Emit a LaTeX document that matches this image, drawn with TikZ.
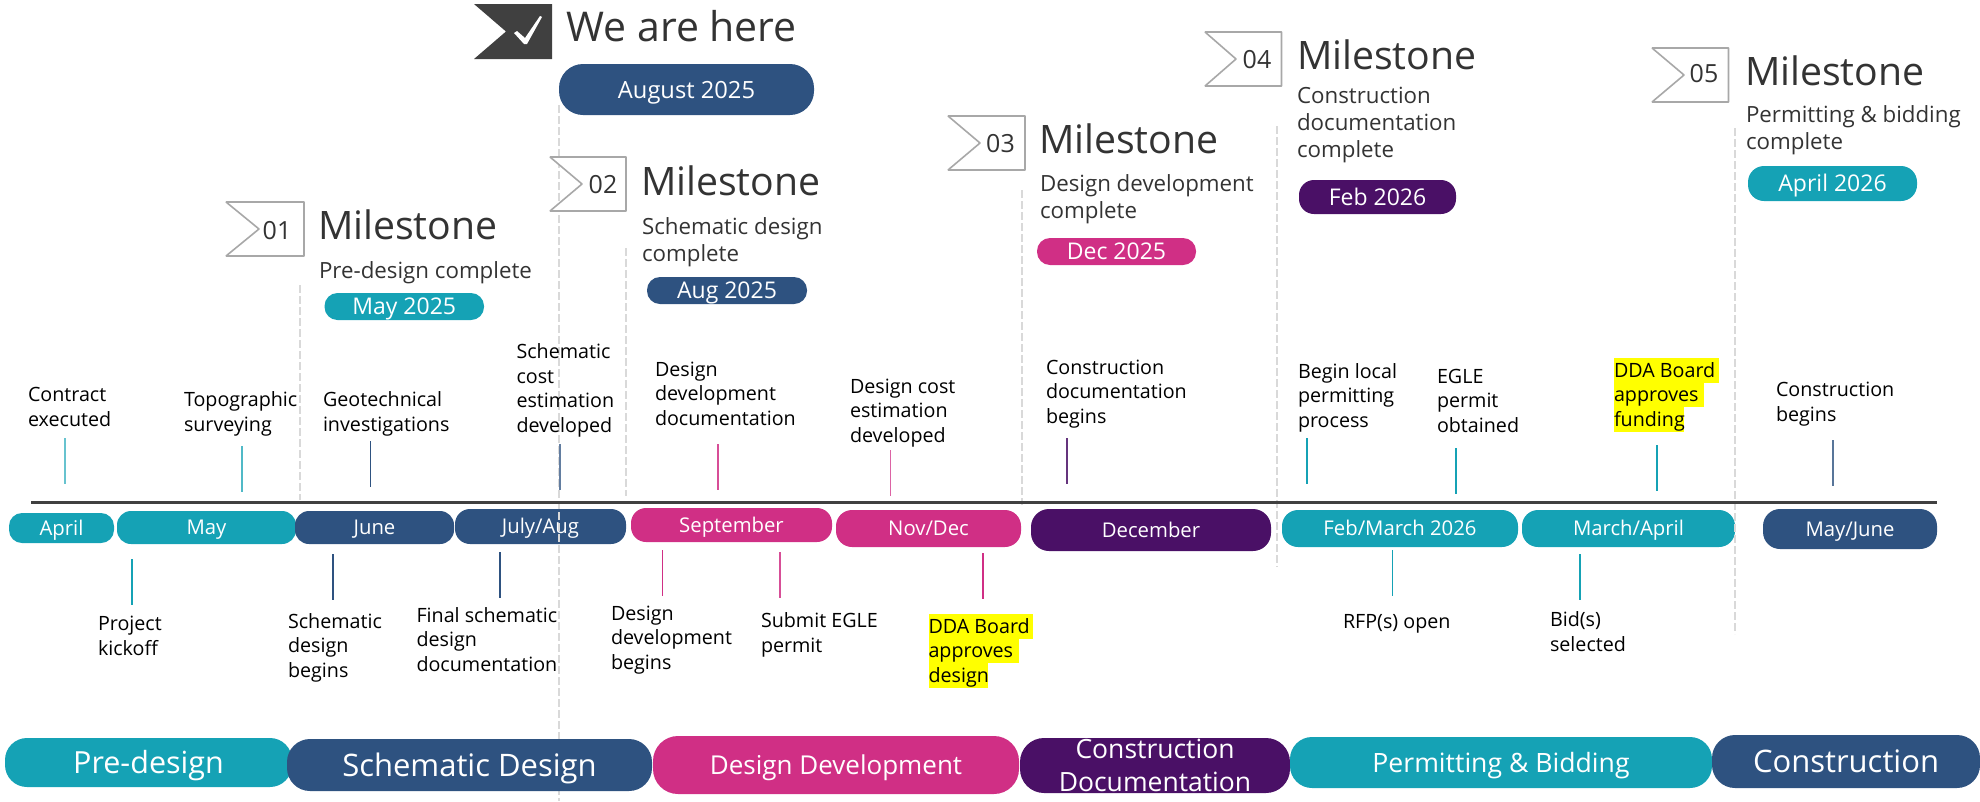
\documentclass[tikz,border=0pt]{standalone}
\usepackage{fontspec}
\setmainfont{Open Sans}
\definecolor{teal}{HTML}{15A2B5}
\definecolor{navy}{HTML}{2E5280}
\definecolor{mag}{HTML}{D02F85}
\definecolor{purp}{HTML}{4A1066}
\definecolor{flaggray}{HTML}{A8A8A8}
\definecolor{dashgray}{HTML}{D9D9D9}
\definecolor{headtext}{HTML}{333333}
\definecolor{marktick}{HTML}{404040}
\definecolor{hilite}{HTML}{FFFF00}
\newcommand{\fs}[1]{\fontsize{#1}{#1}\selectfont}
\tikzset{
  pillbox/.style={inner sep=0pt,outer sep=0pt,text=white,align=center},
  lab/.style={inner sep=0pt,outer sep=0pt,anchor=base west,align=left,text=black,font=\fontsize{19.7}{24.5}\selectfont},
  head/.style={inner sep=0pt,outer sep=0pt,anchor=base west,text=headtext,font=\fs{39.2}},
  sub/.style={inner sep=0pt,outer sep=0pt,anchor=base west,align=left,text=headtext,font=\fontsize{22.3}{27}\selectfont},
  num/.style={inner sep=0pt,outer sep=0pt,text=headtext,font=\fs{25}},
  flagshape/.style={draw=flaggray,line width=1.6pt,fill=white,line join=bevel},
  tickline/.style={line width=1.25pt},
  guide/.style={draw=dashgray,line width=1.3pt,dash pattern=on 8pt off 3pt},
  hibar/.style={fill=hilite,draw=none},
}
% \pill{name}{x1}{y1}{x2}{y2}{colour}{radius}{fontsize}{text}
\newcommand{\pill}[9]{%
  \pgfmathsetmacro{\pw}{#4-#2}\pgfmathsetmacro{\ph}{#5-#3}%
  \pgfmathsetmacro{\pcx}{(#2+#4)/2}\pgfmathsetmacro{\pcy}{(#3+#5)/2}%
  \pgfmathsetmacro{\pth}{#8*0.72}%
  \node[pillbox,fill=#6,rounded corners=#7pt,minimum width=\pw pt,minimum height=\ph pt,
        font=\fs{#8},text height=\pth pt,text depth=0pt] (#1) at (\pcx,\pcy) {#9};}
% \tickmark{name}{x}{y1}{y2}{colour}
\newcommand{\tickmark}[5]{%
  \coordinate (#1a) at (#2,#3);\coordinate (#1b) at (#2,#4);
  \draw[tickline,draw=#5] (#1a) -- (#1b);}
% \guideline{name}{x}{y1}{y2}
\newcommand{\guideline}[4]{%
  \coordinate (#1a) at (#2,#3);\coordinate (#1b) at (#2,#4);
  \draw[guide] (#1a) -- (#1b);}
% \flagmark{x0}{x1}{notch}{y0}{y1}
\newcommand{\flagmark}[5]{%
  \pgfmathsetmacro{\fm}{(#4+#5)/2}%
  \draw[flagshape] (#1,#4) -- (#2,#4) -- (#2,#5) -- (#1,#5) -- (#3,\fm) -- cycle;}
\begin{document}
\begin{tikzpicture}[x=1pt,y=-1pt]
\useasboundingbox (0,0) rectangle (1980,801);
% month pills
\pill{mApr}{9}{513}{114}{543}{teal}{13}{20.3}{April}
\pill{mMay}{117}{511}{296}{544}{teal}{14}{20.3}{May}
\pill{mJun}{295}{511}{454}{544}{navy}{14}{20.3}{June}
\pill{mJul}{455}{509}{626}{544}{navy}{15}{20.3}{July/Aug}
\pill{mSep}{631}{508}{832}{542}{mag}{15}{20.3}{September}
\pill{mNov}{836}{510}{1021}{547}{mag}{16}{20.3}{Nov/Dec}
\pill{mDec}{1031}{509}{1271}{551}{purp}{18}{20.3}{December}
\pill{mFeb}{1282}{510}{1518}{547}{teal}{16}{20.3}{Feb/March 2026}
\pill{mMar}{1522}{510}{1735}{547}{teal}{16}{20.3}{March/April}
\pill{mJune}{1763}{509}{1937}{549}{navy}{17}{20.3}{May/June}
% guides
\guideline{g1}{300}{285}{500}
\guideline{g2}{559}{105}{801}
\guideline{g3}{626}{248}{496}
\guideline{g4}{1022}{190}{505}
\guideline{g5}{1277}{126}{567}
\guideline{g6}{1735}{128}{634}
% axis
\coordinate (axL) at (31,502);\coordinate (axR) at (1937,502);
\draw[line width=3pt,draw=marktick] (axL) -- (axR);
% phase pills
\pill{pPre}{5}{738}{292}{787}{teal}{22}{30.5}{Pre-design}
\pill{pSch}{287}{739}{652}{791}{navy}{23}{31}{Schematic Design}
\pill{pDes}{653}{736}{1019}{794}{mag}{25}{26}{Design Development}
\node[pillbox,fill=purp,rounded corners=24pt,minimum width=270pt,minimum height=55pt,font=\fontsize{26.5}{33}\selectfont] (pCon) at (1155,765.5) {Construction\\Documentation};
\pill{pPer}{1290}{737}{1712}{788}{teal}{22}{26.6}{Permitting \& Bidding}
\pill{pBui}{1712}{735}{1980}{788}{navy}{23}{31}{Construction}
% ticks above
\tickmark{t1}{65}{438}{484}{teal!65}
\tickmark{t2}{242}{446}{492}{teal!75}
\tickmark{t3}{370.5}{441}{487}{navy}
\tickmark{t4}{560}{444}{490}{navy!75}
\tickmark{t5}{718}{444}{490}{mag!85}
\tickmark{t6}{890.5}{450}{496}{mag!75}
\tickmark{t7}{1067}{438}{484}{purp!85}
\tickmark{t8}{1307}{438}{484}{teal}
\tickmark{t9}{1456}{448}{494}{teal}
\tickmark{t10}{1657}{445}{491}{teal}
\tickmark{t11}{1833}{440}{486}{navy!80}
% ticks below
\tickmark{b1}{132}{559}{605}{teal}
\tickmark{b2}{333}{554}{600}{navy}
\tickmark{b3}{500}{552}{598}{navy}
\tickmark{b4}{662.5}{550}{596}{mag}
\tickmark{b5}{780}{552}{598}{mag!85}
\tickmark{b6}{983}{553}{599}{mag}
\tickmark{b7}{1392.5}{550}{596}{teal}
\tickmark{b8}{1580}{554}{600}{teal}
% highlights
\fill[hibar] (1614,358) rectangle (1719,383);
\fill[hibar] (1614,383) rectangle (1704,407);
\fill[hibar] (1614,407) rectangle (1684,431.5);
\fill[hibar] (928.5,614) rectangle (1033,639);
\fill[hibar] (928.5,639) rectangle (1019,663);
\fill[hibar] (928.5,663) rectangle (987.5,688);
% labels above (anchored on the last line's baseline)
\node[lab] (l1) at (28,426) {Contract\\executed};
\node[lab] (l2) at (184,431) {Topographic\\surveying};
\node[lab] (l3) at (323,431) {Geotechnical\\investigations};
\node[lab] (l4) at (516.5,432) {Schematic\\cost\\estimation\\developed};
\node[lab] (l5) at (655,425) {Design\\development\\documentation};
\node[lab] (l6) at (850,442) {Design cost\\estimation\\developed};
\node[lab] (l7) at (1046,423) {Construction\\documentation\\begins};
\node[lab] (l8) at (1298,427) {Begin local\\permitting\\process};
\node[lab] (l9) at (1437,432) {EGLE\\permit\\obtained};
\node[lab] (l10) at (1614,426) {DDA Board\\approves\\funding};
\node[lab] (l11) at (1776,421) {Construction\\begins};
% labels below
\node[lab] (u1) at (98,655) {Project\\kickoff};
\node[lab] (u2) at (288,677) {Schematic\\design\\begins};
\node[lab] (u3) at (416.5,671) {Final schematic\\design\\documentation};
\node[lab] (u4) at (611,669) {Design\\development\\begins};
\node[lab] (u5) at (761,652) {Submit EGLE\\permit};
\node[lab] (u6) at (928.5,682) {DDA Board\\approves\\design};
\node[lab] (u7) at (1343,628) {RFP(s) open};
\node[lab] (u8) at (1550,651) {Bid(s)\\selected};
% flags
\flagmark{226}{304}{259}{202}{256}
\flagmark{550}{626}{582}{157}{211}
\flagmark{948}{1025}{980}{116}{170}
\flagmark{1205}{1281.5}{1236}{32}{86}
\flagmark{1652}{1728.5}{1684}{48}{102}
\fill[marktick] (474,4) -- (552,4) -- (552,59) -- (474,59) -- (506,31.5) -- cycle;
\fill[white] (514,33) -- (517,31) -- (525,38) -- (540,16) -- (542,17) -- (527,44) -- (524,44) -- cycle;
\node[num] (n1) at (277,231) {01};
\node[num] (n2) at (603,185) {02};
\node[num] (n3) at (1000.5,144) {03};
\node[num] (n4) at (1257,60) {04};
\node[num] (n5) at (1704,74) {05};
% heads
\node[head,font=\fs{41}] (here) at (566.5,41) {We are here};
\node[head] (h1) at (318,239) {Milestone};
\node[head] (h2) at (641,195) {Milestone};
\node[head] (h3) at (1039,153) {Milestone};
\node[head] (h4) at (1297,69) {Milestone};
\node[head] (h5) at (1745,85) {Milestone};
\node[sub] (s1) at (319,278) {Pre-design complete};
\node[sub] (s2) at (642,261) {Schematic design\\complete};
\node[sub] (s3) at (1040,218) {Design development\\complete};
\node[sub] (s4) at (1297,157) {Construction\\documentation\\complete};
\node[sub] (s5) at (1746,149) {Permitting \& bidding\\complete};
% date pills
\pill{d1}{324.5}{293}{484}{320}{teal}{13}{23}{May 2025}
\pill{d2}{647}{277}{807}{304}{navy}{13}{23}{Aug 2025}
\pill{d0}{559}{64}{814}{115}{navy}{24}{23.7}{August 2025}
\pill{d3}{1037}{238}{1196}{265}{mag}{13}{23}{Dec 2025}
\pill{d4}{1299}{180}{1456}{214}{purp}{15}{23}{Feb 2026}
\pill{d5}{1748}{166}{1917}{201}{teal}{16}{23}{April 2026}
\end{tikzpicture}
\end{document}
